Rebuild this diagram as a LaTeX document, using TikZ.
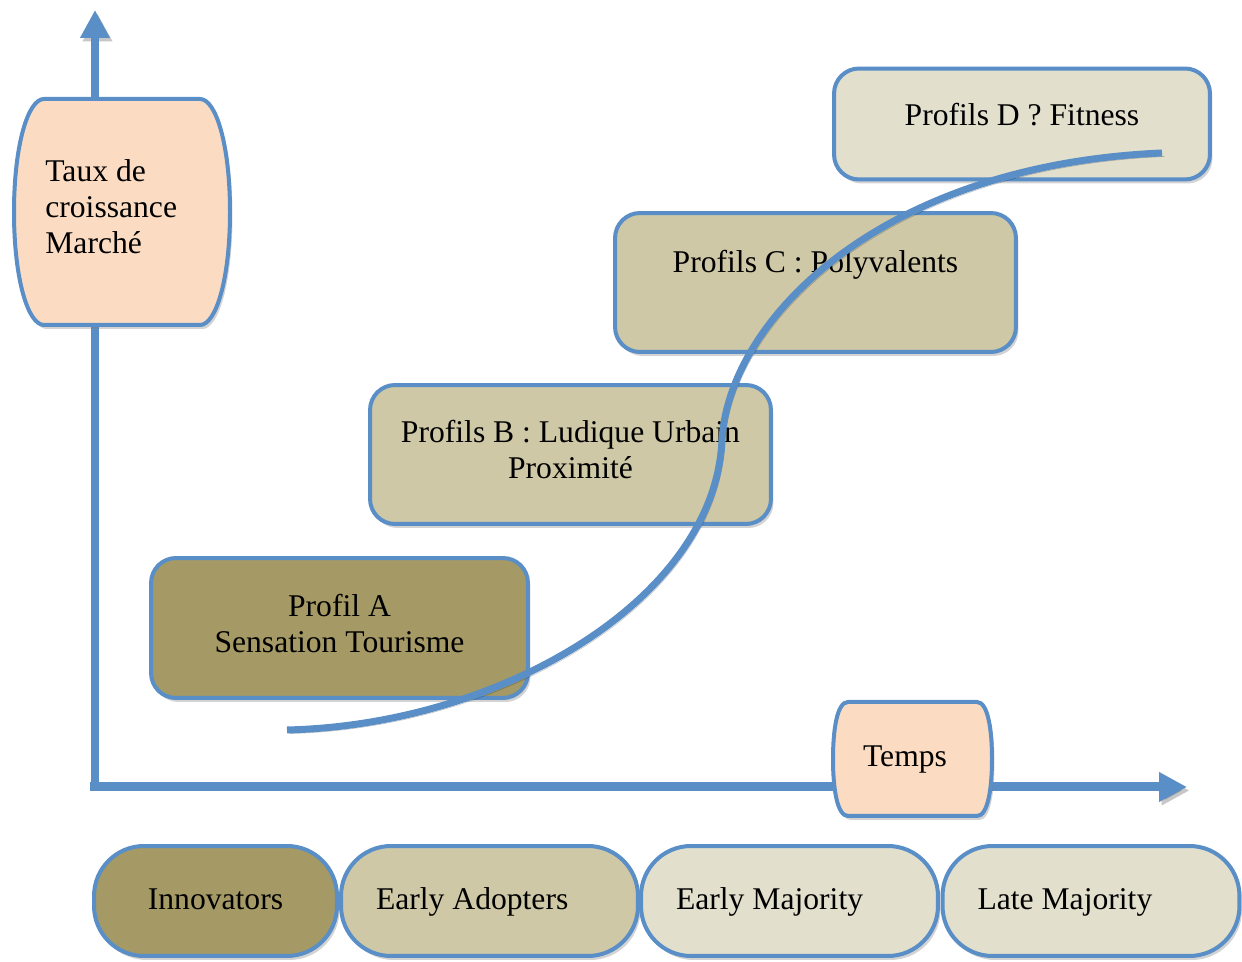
\documentclass[tikz,border=0pt]{standalone}
\usepackage{fontspec}
\setmainfont{Liberation Serif}
\usetikzlibrary{arrows.meta,shadows}

\definecolor{bleu}{RGB}{89,142,199}
\definecolor{peche}{RGB}{251,220,194}
\definecolor{olive}{RGB}{165,154,101}
\definecolor{sable}{RGB}{207,200,166}
\definecolor{creme}{RGB}{226,223,204}

\tikzset{
  ombre/.style={preaction={draw=black, opacity=0.22,
      transform canvas={shift={(0.05cm,-0.07cm)}}}},
  axe/.style={line width=0.18cm, draw=bleu, ombre,
      -{Triangle[length=0.56cm,width=0.56cm]}},
  boite/.style={draw=bleu, line width=0.08cm, rounded corners=0.5cm,
      drop shadow={shadow xshift=0.05cm, shadow yshift=-0.08cm, opacity=0.35},
      align=center, inner sep=0pt},
  tonneau/.style={draw=bleu, line width=0.08cm, fill=peche,
      drop shadow={shadow xshift=0.05cm, shadow yshift=-0.08cm, opacity=0.35}},
  pilule/.style={boite, rounded corners=1cm, minimum height=2.2cm,
      inner xsep=0.7cm, text height=1em, text depth=0pt},
  courbe/.style={line width=0.14cm, draw=bleu, ombre},
}
\newcommand{\agauche}[1]{\makebox[4.54cm][l]{#1}}

\begin{document}
\begin{tikzpicture}[x=0.02cm, y=-0.02cm, font=\fontsize{18}{20.5}\selectfont]
    \useasboundingbox (0,0) rectangle (1242,962);

    % axes
    \coordinate (O) at (95,787);
    \coordinate (yfin) at (95,10);
    \coordinate (xdebut) at (90,787);
    \coordinate (xfin) at (1187,787);
    \draw[axe] (O) -- (yfin);
    \draw[axe] (xdebut) -- (xfin);

    % taux de croissance
    \path[tonneau] (44,99) -- (200,99) .. controls (216,99) and (230,145) .. (230,212)
        .. controls (230,279) and (216,325) .. (200,325) -- (44,325)
        .. controls (28,325) and (14,279) .. (14,212)
        .. controls (14,145) and (28,99) .. (44,99) -- cycle;
    \node[align=left, anchor=west, inner sep=0pt] (taux) at (45,207)
        {Taux de\\croissance\\Marché};

    % temps
    \path[tonneau] (848,702) -- (977,702) .. controls (988,702) and (992,730) .. (992,759)
        .. controls (992,788) and (988,816) .. (977,816) -- (848,816)
        .. controls (837,816) and (833,788) .. (833,759)
        .. controls (833,730) and (837,702) .. (848,702) -- cycle;
    \node (temps) at (905,760) {Temps};

    % categories d'adoptants
    \node[pilule, fill=olive, minimum width=4.86cm] (innov) at (215.5,901) {Innovators};
    \node[pilule, fill=sable] (adopt) at (489.5,901) {\agauche{Early Adopters}};
    \node[pilule, fill=creme] (early) at (789.5,901) {\agauche{Early Majority}};
    \node[pilule, fill=creme, minimum width=5.9cm] (late) at (1091,901) {\agauche{Late Majority}};

    % profils
    \node[boite, fill=olive, minimum width=7.54cm, minimum height=2.8cm] (profA)
        at (339.5,628) {Profil A\\Sensation Tourisme\\[-15pt]\mbox{}};
    \node[boite, fill=sable, minimum width=8.02cm, minimum height=2.78cm] (profB)
        at (570.5,454.5) {Profils B : Ludique Urbain\\Proximité\\[-15pt]\mbox{}};
    \node[boite, fill=sable, minimum width=8.02cm, minimum height=2.78cm] (profC)
        at (815.5,282.5) {Profils C : Polyvalents\\[3pt]\mbox{}};
    \node[boite, fill=creme, minimum width=7.52cm, minimum height=2.22cm] (profD)
        at (1022,124) {Profils D ? Fitness\\[-10pt]\mbox{}};

    % courbe en S
    \draw[courbe] (287,730) .. controls (500,725) and (715,600) .. (722,440)
        .. controls (729,320) and (880,165) .. (1162,153);
\end{tikzpicture}
\end{document}
